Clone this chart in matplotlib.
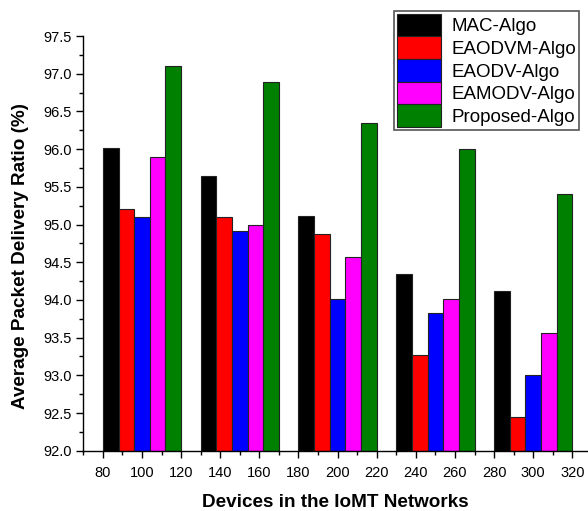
import matplotlib
matplotlib.use('Agg')
import matplotlib.pyplot as plt
import numpy as np
from matplotlib.ticker import MultipleLocator

plt.rcParams['font.family'] = ['Liberation Sans', 'DejaVu Sans']

# Data
centres = [100, 150, 200, 250, 300]
mac      = [96.02, 95.64, 95.11, 94.35, 94.12]
eaodvm   = [95.20, 95.10, 94.87, 93.27, 92.45]
eaodv    = [95.10, 94.92, 94.01, 93.82, 93.01]
eamodv   = [95.89, 95.00, 94.57, 94.01, 93.56]
proposed = [97.10, 96.89, 96.35, 96.00, 95.41]

series = [mac, eaodvm, eaodv, eamodv, proposed]
labels = ['MAC-Algo', 'EAODVM-Algo', 'EAODV-Algo', 'EAMODV-Algo', 'Proposed-Algo']
colors = ['black', 'red', 'blue', 'magenta', 'green']

fig = plt.figure(figsize=(5.88, 5.11), dpi=100)
ax = fig.add_axes([0.1417, 0.118, 0.8583, 0.8115])

width = 8
x = np.array(centres)
for i, (vals, lab, col) in enumerate(zip(series, labels, colors)):
    offs = (i - 2) * width
    ax.bar(x + offs, np.array(vals) - 92.0, width, bottom=92.0, color=col,
           edgecolor='#222222', linewidth=0.8, label=lab)

ax.set_xlim(70, 328)
ax.set_ylim(92.0, 97.5)
ax.set_xticks(np.arange(80, 321, 20))
ax.xaxis.set_minor_locator(MultipleLocator(10))
ax.yaxis.set_major_locator(MultipleLocator(0.5))
ax.yaxis.set_minor_locator(MultipleLocator(0.25))
ax.yaxis.set_major_formatter(matplotlib.ticker.FormatStrFormatter('%.1f'))

ax.spines['top'].set_visible(False)
ax.spines['right'].set_visible(False)
ax.spines['left'].set_linewidth(1.0)
ax.spines['bottom'].set_linewidth(1.0)
ax.tick_params(which='major', direction='out', length=5, width=1, labelsize=10.5)
ax.tick_params(axis='x', which='major', pad=6)
ax.tick_params(which='minor', direction='out', length=3, width=1)

ax.set_xlabel('Devices in the IoMT Networks', fontsize=13.6, fontweight='bold', va='baseline')
ax.xaxis.set_label_coords(0.5, -0.1358)
ax.set_ylabel('Average Packet Delivery Ratio (%)', fontsize=13.6, fontweight='bold', va='center')
ax.yaxis.set_label_coords(-0.1254, 0.4695)

leg = ax.legend(loc='upper right', bbox_to_anchor=(579/588, 1 - 11/511),
                bbox_transform=fig.transFigure, fontsize=13.5, frameon=True,
                fancybox=False, edgecolor='#555555', framealpha=1,
                handlelength=2.35, handleheight=1.48, labelspacing=0.0,
                handletextpad=0.55, borderpad=0.15, borderaxespad=0)
leg.get_frame().set_linewidth(1.2)

fig.savefig('out.png', dpi=100)
